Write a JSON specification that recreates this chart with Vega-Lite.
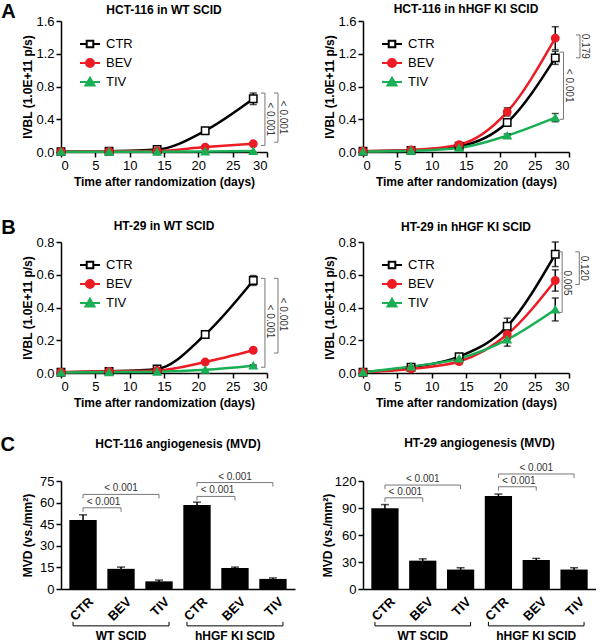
{
 "$schema": "https://vega.github.io/schema/vega-lite/v6.json",
 "background": "white",
 "padding": {"left": 0, "top": 2, "right": 0, "bottom": 0},
 "config": {
  "font": "Liberation Sans",
  "view": {"stroke": null},
  "axis": {"domainColor": "black", "tickColor": "black", "labelColor": "black", "titleColor": "black", "labelFontSize": 13, "titleFontSize": 12, "titleFontWeight": "bold", "grid": false, "domainWidth": 1.5, "tickWidth": 1.5, "tickSize": 5, "labelPadding": 2},
  "title": {"fontSize": 12, "fontWeight": "bold", "color": "black"},
  "legend": {"orient": "top-left", "offset": 12, "padding": 0, "labelFontSize": 13, "labelColor": "black", "symbolSize": 400, "symbolStrokeWidth": 2, "labelOffset": 5, "rowPadding": 0, "symbolOffset": 6}
 },
 "datasets": {
  "lines": [
   {"panel":"A1","series":"CTR","day":0,"value":0.005,"sem":0},
   {"panel":"A1","series":"CTR","day":7,"value":0.01,"sem":0},
   {"panel":"A1","series":"CTR","day":14,"value":0.03,"sem":0.005},
   {"panel":"A1","series":"CTR","day":21,"value":0.26,"sem":0.02},
   {"panel":"A1","series":"CTR","day":28,"value":0.65,"sem":0.07},
   {"panel":"A1","series":"BEV","day":0,"value":0.005,"sem":0},
   {"panel":"A1","series":"BEV","day":7,"value":0.008,"sem":0},
   {"panel":"A1","series":"BEV","day":14,"value":0.012,"sem":0},
   {"panel":"A1","series":"BEV","day":21,"value":0.06,"sem":0.01},
   {"panel":"A1","series":"BEV","day":28,"value":0.10,"sem":0.01},
   {"panel":"A1","series":"TIV","day":0,"value":0.003,"sem":0},
   {"panel":"A1","series":"TIV","day":7,"value":0.003,"sem":0},
   {"panel":"A1","series":"TIV","day":14,"value":0.004,"sem":0},
   {"panel":"A1","series":"TIV","day":21,"value":0.007,"sem":0},
   {"panel":"A1","series":"TIV","day":28,"value":0.012,"sem":0},
   {"panel":"A2","series":"CTR","day":0,"value":0.01,"sem":0},
   {"panel":"A2","series":"CTR","day":7,"value":0.02,"sem":0},
   {"panel":"A2","series":"CTR","day":14,"value":0.07,"sem":0.01},
   {"panel":"A2","series":"CTR","day":21,"value":0.36,"sem":0.04},
   {"panel":"A2","series":"CTR","day":28,"value":1.15,"sem":0.08},
   {"panel":"A2","series":"BEV","day":0,"value":0.01,"sem":0},
   {"panel":"A2","series":"BEV","day":7,"value":0.025,"sem":0},
   {"panel":"A2","series":"BEV","day":14,"value":0.09,"sem":0.01},
   {"panel":"A2","series":"BEV","day":21,"value":0.49,"sem":0.05},
   {"panel":"A2","series":"BEV","day":28,"value":1.39,"sem":0.14},
   {"panel":"A2","series":"TIV","day":0,"value":0.005,"sem":0},
   {"panel":"A2","series":"TIV","day":7,"value":0.015,"sem":0},
   {"panel":"A2","series":"TIV","day":14,"value":0.05,"sem":0},
   {"panel":"A2","series":"TIV","day":21,"value":0.2,"sem":0.02},
   {"panel":"A2","series":"TIV","day":28,"value":0.42,"sem":0.05},
   {"panel":"B1","series":"CTR","day":0,"value":0.005,"sem":0},
   {"panel":"B1","series":"CTR","day":7,"value":0.01,"sem":0},
   {"panel":"B1","series":"CTR","day":14,"value":0.025,"sem":0},
   {"panel":"B1","series":"CTR","day":21,"value":0.235,"sem":0.01},
   {"panel":"B1","series":"CTR","day":28,"value":0.565,"sem":0.03},
   {"panel":"B1","series":"BEV","day":0,"value":0.005,"sem":0},
   {"panel":"B1","series":"BEV","day":7,"value":0.01,"sem":0},
   {"panel":"B1","series":"BEV","day":14,"value":0.015,"sem":0},
   {"panel":"B1","series":"BEV","day":21,"value":0.067,"sem":0.004},
   {"panel":"B1","series":"BEV","day":28,"value":0.139,"sem":0.007},
   {"panel":"B1","series":"TIV","day":0,"value":0.003,"sem":0},
   {"panel":"B1","series":"TIV","day":7,"value":0.005,"sem":0},
   {"panel":"B1","series":"TIV","day":14,"value":0.008,"sem":0},
   {"panel":"B1","series":"TIV","day":21,"value":0.02,"sem":0},
   {"panel":"B1","series":"TIV","day":28,"value":0.045,"sem":0.004},
   {"panel":"B2","series":"CTR","day":0,"value":0.005,"sem":0},
   {"panel":"B2","series":"CTR","day":7,"value":0.035,"sem":0.008},
   {"panel":"B2","series":"CTR","day":14,"value":0.1,"sem":0.01},
   {"panel":"B2","series":"CTR","day":21,"value":0.285,"sem":0.05},
   {"panel":"B2","series":"CTR","day":28,"value":0.725,"sem":0.075},
   {"panel":"B2","series":"BEV","day":0,"value":0.005,"sem":0},
   {"panel":"B2","series":"BEV","day":7,"value":0.025,"sem":0.005},
   {"panel":"B2","series":"BEV","day":14,"value":0.07,"sem":0.015},
   {"panel":"B2","series":"BEV","day":21,"value":0.235,"sem":0.03},
   {"panel":"B2","series":"BEV","day":28,"value":0.565,"sem":0.065},
   {"panel":"B2","series":"TIV","day":0,"value":0.005,"sem":0},
   {"panel":"B2","series":"TIV","day":7,"value":0.04,"sem":0},
   {"panel":"B2","series":"TIV","day":14,"value":0.088,"sem":0.01},
   {"panel":"B2","series":"TIV","day":21,"value":0.204,"sem":0.04},
   {"panel":"B2","series":"TIV","day":28,"value":0.388,"sem":0.07}
  ],
  "vbr": [
   {"panel":"A1","label":"< 0.001","x":29.7,"top":0.72,"bottom":0.08,"mid":0.40},
   {"panel":"A1","label":"< 0.001","x":31.6,"top":0.72,"bottom":0.12,"mid":0.42},
   {"panel":"A2","label":"0.179","x":31.6,"top":1.43,"bottom":1.15,"mid":1.29},
   {"panel":"A2","label":"< 0.001","x":29.2,"top":1.22,"bottom":0.40,"mid":0.81},
   {"panel":"B1","label":"< 0.001","x":29.7,"top":0.578,"bottom":0.035,"mid":0.314},
   {"panel":"B1","label":"< 0.001","x":31.6,"top":0.578,"bottom":0.122,"mid":0.357},
   {"panel":"B2","label":"0.120","x":31.5,"top":0.74,"bottom":0.54,"mid":0.64},
   {"panel":"B2","label":"0.005","x":29.0,"top":0.74,"bottom":0.37,"mid":0.55}
  ],
  "bars": [
   {"panel":"C1","bar":"WT|CTR","value":48.0,"sem":3.5},
   {"panel":"C1","bar":"WT|BEV","value":14.0,"sem":1.2},
   {"panel":"C1","bar":"WT|TIV","value":5.3,"sem":0.9},
   {"panel":"C1","bar":"KI|CTR","value":58.3,"sem":2.0},
   {"panel":"C1","bar":"KI|BEV","value":14.6,"sem":0.6},
   {"panel":"C1","bar":"KI|TIV","value":7.0,"sem":0.7},
   {"panel":"C2","bar":"WT|CTR","value":89.8,"sem":4.0},
   {"panel":"C2","bar":"WT|BEV","value":31.5,"sem":2.0},
   {"panel":"C2","bar":"WT|TIV","value":21.6,"sem":2.0},
   {"panel":"C2","bar":"KI|CTR","value":103.3,"sem":2.2},
   {"panel":"C2","bar":"KI|BEV","value":32.2,"sem":1.8},
   {"panel":"C2","bar":"KI|TIV","value":21.6,"sem":2.0}
  ],
  "hbr": [
   {"panel":"C1","from":"WT|CTR","to":"WT|BEV","pair":"BEV","level":56.4,"label":"< 0.001"},
   {"panel":"C1","from":"WT|CTR","to":"WT|TIV","pair":"TIV","level":65.7,"label":"< 0.001"},
   {"panel":"C1","from":"KI|CTR","to":"KI|BEV","pair":"BEV","level":64.3,"label":"< 0.001"},
   {"panel":"C1","from":"KI|CTR","to":"KI|TIV","pair":"TIV","level":73.9,"label":"< 0.001"},
   {"panel":"C2","from":"WT|CTR","to":"WT|BEV","pair":"BEV","level":101.3,"label":"< 0.001"},
   {"panel":"C2","from":"WT|CTR","to":"WT|TIV","pair":"TIV","level":115.5,"label":"< 0.001"},
   {"panel":"C2","from":"KI|CTR","to":"KI|BEV","pair":"BEV","level":113.6,"label":"< 0.001"},
   {"panel":"C2","from":"KI|CTR","to":"KI|TIV","pair":"TIV","level":127.8,"label":"< 0.001"}
  ],
  "groups": [
   {"group":"WT SCID","first":"WT|CTR","middle":"WT|BEV","last":"WT|TIV"},
   {"group":"hHGF KI SCID","first":"KI|CTR","middle":"KI|BEV","last":"KI|TIV"}
  ]
 },
 "spacing": 27,
 "resolve": {"scale": {"color": "independent"}},
 "vconcat": [
  {
   "spacing": 30,
   "resolve": {"scale": {"color": "independent"}},
   "vconcat": [
    {
     "spacing": 35,
     "resolve": {"scale": {"color": "independent"}},
     "hconcat": [
      {
       "width": 206, "height": 131,
       "title": {"text": "HCT-116 in WT SCID", "offset": -14.5},
       "layer": [
        {"data": {"name": "lines"}, "transform": [{"filter": "datum.panel === 'A1'"}],
         "mark": {"type": "line", "interpolate": "monotone", "strokeWidth": 2.5},
         "encoding": {
          "x": {"field": "day", "type": "quantitative", "scale": {"domain": [0, 30], "nice": false}, "axis": {"values": [0,5,10,15,20,25,30], "title": "Time after randomization (days)"}},
          "y": {"field": "value", "type": "quantitative", "scale": {"domain": [0, 1.6], "nice": false}, "axis": {"values": [0,0.4,0.8,1.2,1.6], "format": ".1f", "title": "IVBL (1.0E+11 p/s)", "titlePadding": 1}},
          "color": {"field": "series", "type": "nominal", "scale": {"domain": ["CTR","BEV","TIV"], "range": ["black","#ec1c24","#1aaf54"]},
           "legend": {"title": null, "encode": {"symbols": {"update": {
            "shape": {"signal": "datum.value === 'CTR' ? 'M-1,0H-0.33M0.33,0H1M-0.33,-0.33H0.33V0.33H-0.33Z' : datum.value === 'BEV' ? 'M-1,0H1M-0.4,0A0.4,0.4,0,1,0,0.4,0A0.4,0.4,0,1,0,-0.4,0Z' : 'M-1,0H1M0,-0.42L0.45,0.34H-0.45Z'"},
            "fill": {"signal": "datum.value === 'CTR' ? 'white' : datum.value === 'BEV' ? '#ec1c24' : '#1aaf54'"},
            "fillOpacity": {"value": 1}, "strokeWidth": {"value": 2}}}}}}
         }},
        {"data": {"name": "lines"}, "transform": [{"filter": "datum.panel === 'A1' && datum.sem > 0"}],
         "mark": {"type": "errorbar", "ticks": {"size": 7, "color": "black"}, "rule": {"color": "black"}, "thickness": 1.5},
         "encoding": {"x": {"field": "day", "type": "quantitative", "axis": {"values": [0,5,10,15,20,25,30], "title": "Time after randomization (days)"}}, "y": {"field": "value", "type": "quantitative", "axis": {"values": [0,0.4,0.8,1.2,1.6], "format": ".1f", "title": "IVBL (1.0E+11 p/s)", "titlePadding": 1}}, "yError": {"field": "sem"}}},
        {"data": {"name": "lines"}, "transform": [{"filter": "datum.panel === 'A1'"}],
         "mark": {"type": "point", "filled": true, "opacity": 1, "size": 55, "strokeWidth": 1.5},
         "encoding": {
          "x": {"field": "day", "type": "quantitative", "axis": {"values": [0,5,10,15,20,25,30], "title": "Time after randomization (days)"}}, "y": {"field": "value", "type": "quantitative", "axis": {"values": [0,0.4,0.8,1.2,1.6], "format": ".1f", "title": "IVBL (1.0E+11 p/s)", "titlePadding": 1}},
          "shape": {"field": "series", "type": "nominal", "scale": {"domain": ["CTR","BEV","TIV"], "range": ["square","circle","triangle-up"]}, "legend": null},
          "fill": {"field": "series", "type": "nominal", "scale": {"domain": ["CTR","BEV","TIV"], "range": ["white","#ec1c24","#1aaf54"]}, "legend": null},
          "stroke": {"field": "series", "type": "nominal", "scale": {"domain": ["CTR","BEV","TIV"], "range": ["black","#ec1c24","#1aaf54"]}, "legend": null}}},
        {"data": {"name": "vbr"}, "transform": [{"filter": "datum.panel === 'A1'"}], "mark": {"type": "rule", "color": "#777777", "strokeWidth": 1},
         "encoding": {"x": {"field": "x", "type": "quantitative", "axis": {"values": [0,5,10,15,20,25,30], "title": "Time after randomization (days)"}}, "y": {"field": "top", "type": "quantitative", "axis": {"values": [0,0.4,0.8,1.2,1.6], "format": ".1f", "title": "IVBL (1.0E+11 p/s)", "titlePadding": 1}}, "y2": {"field": "bottom"}}},
        {"data": {"name": "vbr"}, "transform": [{"filter": "datum.panel === 'A1'"}], "mark": {"type": "rule", "color": "#777777", "strokeWidth": 1, "x2Offset": -4},
         "encoding": {"x": {"field": "x", "type": "quantitative", "axis": {"values": [0,5,10,15,20,25,30], "title": "Time after randomization (days)"}}, "x2": {"field": "x"}, "y": {"field": "top", "type": "quantitative", "axis": {"values": [0,0.4,0.8,1.2,1.6], "format": ".1f", "title": "IVBL (1.0E+11 p/s)", "titlePadding": 1}}}},
        {"data": {"name": "vbr"}, "transform": [{"filter": "datum.panel === 'A1'"}], "mark": {"type": "rule", "color": "#777777", "strokeWidth": 1, "x2Offset": -4},
         "encoding": {"x": {"field": "x", "type": "quantitative", "axis": {"values": [0,5,10,15,20,25,30], "title": "Time after randomization (days)"}}, "x2": {"field": "x"}, "y": {"field": "bottom", "type": "quantitative", "axis": {"values": [0,0.4,0.8,1.2,1.6], "format": ".1f", "title": "IVBL (1.0E+11 p/s)", "titlePadding": 1}}}},
        {"data": {"name": "vbr"}, "transform": [{"filter": "datum.panel === 'A1'"}], "mark": {"type": "text", "angle": 90, "baseline": "bottom", "align": "center", "fontSize": 10, "color": "#333333"},
         "encoding": {"x": {"field": "x", "type": "quantitative", "axis": {"values": [0,5,10,15,20,25,30], "title": "Time after randomization (days)"}}, "y": {"field": "mid", "type": "quantitative", "axis": {"values": [0,0.4,0.8,1.2,1.6], "format": ".1f", "title": "IVBL (1.0E+11 p/s)", "titlePadding": 1}}, "text": {"field": "label"}}},
        {"data": {"values": [{}]}, "mark": {"type": "text", "fontSize": 20, "fontWeight": "bold", "align": "left", "baseline": "middle", "color": "black"},
         "encoding": {"x": {"datum": -8.7, "type": "quantitative", "axis": {"values": [0,5,10,15,20,25,30], "title": "Time after randomization (days)"}}, "y": {"datum": 1.709, "type": "quantitative", "axis": {"values": [0,0.4,0.8,1.2,1.6], "format": ".1f", "title": "IVBL (1.0E+11 p/s)", "titlePadding": 1}}, "text": {"value": "A"}}}
       ]
      },
      {
       "width": 206, "height": 131,
       "title": {"text": "HCT-116 in hHGF KI SCID", "offset": -1},
       "layer": [
        {"data": {"name": "lines"}, "transform": [{"filter": "datum.panel === 'A2'"}],
         "mark": {"type": "line", "interpolate": "monotone", "strokeWidth": 2.5},
         "encoding": {
          "x": {"field": "day", "type": "quantitative", "scale": {"domain": [0, 30], "nice": false}, "axis": {"values": [0,5,10,15,20,25,30], "title": "Time after randomization (days)"}},
          "y": {"field": "value", "type": "quantitative", "scale": {"domain": [0, 1.6], "nice": false}, "axis": {"values": [0,0.4,0.8,1.2,1.6], "format": ".1f", "title": "IVBL (1.0E+11 p/s)", "titlePadding": 1}},
          "color": {"field": "series", "type": "nominal", "scale": {"domain": ["CTR","BEV","TIV"], "range": ["black","#ec1c24","#1aaf54"]},
           "legend": {"title": null, "encode": {"symbols": {"update": {
            "shape": {"signal": "datum.value === 'CTR' ? 'M-1,0H-0.33M0.33,0H1M-0.33,-0.33H0.33V0.33H-0.33Z' : datum.value === 'BEV' ? 'M-1,0H1M-0.4,0A0.4,0.4,0,1,0,0.4,0A0.4,0.4,0,1,0,-0.4,0Z' : 'M-1,0H1M0,-0.42L0.45,0.34H-0.45Z'"},
            "fill": {"signal": "datum.value === 'CTR' ? 'white' : datum.value === 'BEV' ? '#ec1c24' : '#1aaf54'"},
            "fillOpacity": {"value": 1}, "strokeWidth": {"value": 2}}}}}}
         }},
        {"data": {"name": "lines"}, "transform": [{"filter": "datum.panel === 'A2' && datum.sem > 0"}],
         "mark": {"type": "errorbar", "ticks": {"size": 7, "color": "black"}, "rule": {"color": "black"}, "thickness": 1.5},
         "encoding": {"x": {"field": "day", "type": "quantitative", "axis": {"values": [0,5,10,15,20,25,30], "title": "Time after randomization (days)"}}, "y": {"field": "value", "type": "quantitative", "axis": {"values": [0,0.4,0.8,1.2,1.6], "format": ".1f", "title": "IVBL (1.0E+11 p/s)", "titlePadding": 1}}, "yError": {"field": "sem"}}},
        {"data": {"name": "lines"}, "transform": [{"filter": "datum.panel === 'A2'"}],
         "mark": {"type": "point", "filled": true, "opacity": 1, "size": 55, "strokeWidth": 1.5},
         "encoding": {
          "x": {"field": "day", "type": "quantitative", "axis": {"values": [0,5,10,15,20,25,30], "title": "Time after randomization (days)"}}, "y": {"field": "value", "type": "quantitative", "axis": {"values": [0,0.4,0.8,1.2,1.6], "format": ".1f", "title": "IVBL (1.0E+11 p/s)", "titlePadding": 1}},
          "shape": {"field": "series", "type": "nominal", "scale": {"domain": ["CTR","BEV","TIV"], "range": ["square","circle","triangle-up"]}, "legend": null},
          "fill": {"field": "series", "type": "nominal", "scale": {"domain": ["CTR","BEV","TIV"], "range": ["white","#ec1c24","#1aaf54"]}, "legend": null},
          "stroke": {"field": "series", "type": "nominal", "scale": {"domain": ["CTR","BEV","TIV"], "range": ["black","#ec1c24","#1aaf54"]}, "legend": null}}},
        {"data": {"name": "vbr"}, "transform": [{"filter": "datum.panel === 'A2'"}], "mark": {"type": "rule", "color": "#777777", "strokeWidth": 1},
         "encoding": {"x": {"field": "x", "type": "quantitative", "axis": {"values": [0,5,10,15,20,25,30], "title": "Time after randomization (days)"}}, "y": {"field": "top", "type": "quantitative", "axis": {"values": [0,0.4,0.8,1.2,1.6], "format": ".1f", "title": "IVBL (1.0E+11 p/s)", "titlePadding": 1}}, "y2": {"field": "bottom"}}},
        {"data": {"name": "vbr"}, "transform": [{"filter": "datum.panel === 'A2'"}], "mark": {"type": "rule", "color": "#777777", "strokeWidth": 1, "x2Offset": -4},
         "encoding": {"x": {"field": "x", "type": "quantitative", "axis": {"values": [0,5,10,15,20,25,30], "title": "Time after randomization (days)"}}, "x2": {"field": "x"}, "y": {"field": "top", "type": "quantitative", "axis": {"values": [0,0.4,0.8,1.2,1.6], "format": ".1f", "title": "IVBL (1.0E+11 p/s)", "titlePadding": 1}}}},
        {"data": {"name": "vbr"}, "transform": [{"filter": "datum.panel === 'A2'"}], "mark": {"type": "rule", "color": "#777777", "strokeWidth": 1, "x2Offset": -4},
         "encoding": {"x": {"field": "x", "type": "quantitative", "axis": {"values": [0,5,10,15,20,25,30], "title": "Time after randomization (days)"}}, "x2": {"field": "x"}, "y": {"field": "bottom", "type": "quantitative", "axis": {"values": [0,0.4,0.8,1.2,1.6], "format": ".1f", "title": "IVBL (1.0E+11 p/s)", "titlePadding": 1}}}},
        {"data": {"name": "vbr"}, "transform": [{"filter": "datum.panel === 'A2'"}], "mark": {"type": "text", "angle": 90, "baseline": "bottom", "align": "center", "fontSize": 10, "color": "#333333"},
         "encoding": {"x": {"field": "x", "type": "quantitative", "axis": {"values": [0,5,10,15,20,25,30], "title": "Time after randomization (days)"}}, "y": {"field": "mid", "type": "quantitative", "axis": {"values": [0,0.4,0.8,1.2,1.6], "format": ".1f", "title": "IVBL (1.0E+11 p/s)", "titlePadding": 1}}, "text": {"field": "label"}}}
       ]
      }
     ]
    },
    {
     "spacing": 35,
     "resolve": {"scale": {"color": "independent"}},
     "hconcat": [
      {
       "width": 206, "height": 131,
       "title": {"text": "HT-29 in WT SCID", "offset": -15},
       "layer": [
        {"data": {"name": "lines"}, "transform": [{"filter": "datum.panel === 'B1'"}],
         "mark": {"type": "line", "interpolate": "monotone", "strokeWidth": 2.5},
         "encoding": {
          "x": {"field": "day", "type": "quantitative", "scale": {"domain": [0, 30], "nice": false}, "axis": {"values": [0,5,10,15,20,25,30], "title": "Time after randomization (days)"}},
          "y": {"field": "value", "type": "quantitative", "scale": {"domain": [0, 0.8], "nice": false}, "axis": {"values": [0,0.2,0.4,0.6,0.8], "format": ".1f", "title": "IVBL (1.0E+11 p/s)", "titlePadding": 1}},
          "color": {"field": "series", "type": "nominal", "scale": {"domain": ["CTR","BEV","TIV"], "range": ["black","#ec1c24","#1aaf54"]},
           "legend": {"title": null, "encode": {"symbols": {"update": {
            "shape": {"signal": "datum.value === 'CTR' ? 'M-1,0H-0.33M0.33,0H1M-0.33,-0.33H0.33V0.33H-0.33Z' : datum.value === 'BEV' ? 'M-1,0H1M-0.4,0A0.4,0.4,0,1,0,0.4,0A0.4,0.4,0,1,0,-0.4,0Z' : 'M-1,0H1M0,-0.42L0.45,0.34H-0.45Z'"},
            "fill": {"signal": "datum.value === 'CTR' ? 'white' : datum.value === 'BEV' ? '#ec1c24' : '#1aaf54'"},
            "fillOpacity": {"value": 1}, "strokeWidth": {"value": 2}}}}}}
         }},
        {"data": {"name": "lines"}, "transform": [{"filter": "datum.panel === 'B1' && datum.sem > 0"}],
         "mark": {"type": "errorbar", "ticks": {"size": 7, "color": "black"}, "rule": {"color": "black"}, "thickness": 1.5},
         "encoding": {"x": {"field": "day", "type": "quantitative", "axis": {"values": [0,5,10,15,20,25,30], "title": "Time after randomization (days)"}}, "y": {"field": "value", "type": "quantitative", "axis": {"values": [0,0.2,0.4,0.6,0.8], "format": ".1f", "title": "IVBL (1.0E+11 p/s)", "titlePadding": 1}}, "yError": {"field": "sem"}}},
        {"data": {"name": "lines"}, "transform": [{"filter": "datum.panel === 'B1'"}],
         "mark": {"type": "point", "filled": true, "opacity": 1, "size": 55, "strokeWidth": 1.5},
         "encoding": {
          "x": {"field": "day", "type": "quantitative", "axis": {"values": [0,5,10,15,20,25,30], "title": "Time after randomization (days)"}}, "y": {"field": "value", "type": "quantitative", "axis": {"values": [0,0.2,0.4,0.6,0.8], "format": ".1f", "title": "IVBL (1.0E+11 p/s)", "titlePadding": 1}},
          "shape": {"field": "series", "type": "nominal", "scale": {"domain": ["CTR","BEV","TIV"], "range": ["square","circle","triangle-up"]}, "legend": null},
          "fill": {"field": "series", "type": "nominal", "scale": {"domain": ["CTR","BEV","TIV"], "range": ["white","#ec1c24","#1aaf54"]}, "legend": null},
          "stroke": {"field": "series", "type": "nominal", "scale": {"domain": ["CTR","BEV","TIV"], "range": ["black","#ec1c24","#1aaf54"]}, "legend": null}}},
        {"data": {"name": "vbr"}, "transform": [{"filter": "datum.panel === 'B1'"}], "mark": {"type": "rule", "color": "#777777", "strokeWidth": 1},
         "encoding": {"x": {"field": "x", "type": "quantitative", "axis": {"values": [0,5,10,15,20,25,30], "title": "Time after randomization (days)"}}, "y": {"field": "top", "type": "quantitative", "axis": {"values": [0,0.2,0.4,0.6,0.8], "format": ".1f", "title": "IVBL (1.0E+11 p/s)", "titlePadding": 1}}, "y2": {"field": "bottom"}}},
        {"data": {"name": "vbr"}, "transform": [{"filter": "datum.panel === 'B1'"}], "mark": {"type": "rule", "color": "#777777", "strokeWidth": 1, "x2Offset": -4},
         "encoding": {"x": {"field": "x", "type": "quantitative", "axis": {"values": [0,5,10,15,20,25,30], "title": "Time after randomization (days)"}}, "x2": {"field": "x"}, "y": {"field": "top", "type": "quantitative", "axis": {"values": [0,0.2,0.4,0.6,0.8], "format": ".1f", "title": "IVBL (1.0E+11 p/s)", "titlePadding": 1}}}},
        {"data": {"name": "vbr"}, "transform": [{"filter": "datum.panel === 'B1'"}], "mark": {"type": "rule", "color": "#777777", "strokeWidth": 1, "x2Offset": -4},
         "encoding": {"x": {"field": "x", "type": "quantitative", "axis": {"values": [0,5,10,15,20,25,30], "title": "Time after randomization (days)"}}, "x2": {"field": "x"}, "y": {"field": "bottom", "type": "quantitative", "axis": {"values": [0,0.2,0.4,0.6,0.8], "format": ".1f", "title": "IVBL (1.0E+11 p/s)", "titlePadding": 1}}}},
        {"data": {"name": "vbr"}, "transform": [{"filter": "datum.panel === 'B1'"}], "mark": {"type": "text", "angle": 90, "baseline": "bottom", "align": "center", "fontSize": 10, "color": "#333333"},
         "encoding": {"x": {"field": "x", "type": "quantitative", "axis": {"values": [0,5,10,15,20,25,30], "title": "Time after randomization (days)"}}, "y": {"field": "mid", "type": "quantitative", "axis": {"values": [0,0.2,0.4,0.6,0.8], "format": ".1f", "title": "IVBL (1.0E+11 p/s)", "titlePadding": 1}}, "text": {"field": "label"}}},
        {"data": {"values": [{}]}, "mark": {"type": "text", "fontSize": 20, "fontWeight": "bold", "align": "left", "baseline": "middle", "color": "black"},
         "encoding": {"x": {"datum": -8.7, "type": "quantitative", "axis": {"values": [0,5,10,15,20,25,30], "title": "Time after randomization (days)"}}, "y": {"datum": 0.887, "type": "quantitative", "axis": {"values": [0,0.2,0.4,0.6,0.8], "format": ".1f", "title": "IVBL (1.0E+11 p/s)", "titlePadding": 1}}, "text": {"value": "B"}}}
       ]
      },
      {
       "width": 206, "height": 131,
       "title": {"text": "HT-29 in hHGF KI SCID", "offset": 2},
       "layer": [
        {"data": {"name": "lines"}, "transform": [{"filter": "datum.panel === 'B2'"}],
         "mark": {"type": "line", "interpolate": "monotone", "strokeWidth": 2.5},
         "encoding": {
          "x": {"field": "day", "type": "quantitative", "scale": {"domain": [0, 30], "nice": false}, "axis": {"values": [0,5,10,15,20,25,30], "title": "Time after randomization (days)"}},
          "y": {"field": "value", "type": "quantitative", "scale": {"domain": [0, 0.8], "nice": false}, "axis": {"values": [0,0.2,0.4,0.6,0.8], "format": ".1f", "title": "IVBL (1.0E+11 p/s)", "titlePadding": 1}},
          "color": {"field": "series", "type": "nominal", "scale": {"domain": ["CTR","BEV","TIV"], "range": ["black","#ec1c24","#1aaf54"]},
           "legend": {"title": null, "encode": {"symbols": {"update": {
            "shape": {"signal": "datum.value === 'CTR' ? 'M-1,0H-0.33M0.33,0H1M-0.33,-0.33H0.33V0.33H-0.33Z' : datum.value === 'BEV' ? 'M-1,0H1M-0.4,0A0.4,0.4,0,1,0,0.4,0A0.4,0.4,0,1,0,-0.4,0Z' : 'M-1,0H1M0,-0.42L0.45,0.34H-0.45Z'"},
            "fill": {"signal": "datum.value === 'CTR' ? 'white' : datum.value === 'BEV' ? '#ec1c24' : '#1aaf54'"},
            "fillOpacity": {"value": 1}, "strokeWidth": {"value": 2}}}}}}
         }},
        {"data": {"name": "lines"}, "transform": [{"filter": "datum.panel === 'B2' && datum.sem > 0"}],
         "mark": {"type": "errorbar", "ticks": {"size": 7, "color": "black"}, "rule": {"color": "black"}, "thickness": 1.5},
         "encoding": {"x": {"field": "day", "type": "quantitative", "axis": {"values": [0,5,10,15,20,25,30], "title": "Time after randomization (days)"}}, "y": {"field": "value", "type": "quantitative", "axis": {"values": [0,0.2,0.4,0.6,0.8], "format": ".1f", "title": "IVBL (1.0E+11 p/s)", "titlePadding": 1}}, "yError": {"field": "sem"}}},
        {"data": {"name": "lines"}, "transform": [{"filter": "datum.panel === 'B2'"}],
         "mark": {"type": "point", "filled": true, "opacity": 1, "size": 55, "strokeWidth": 1.5},
         "encoding": {
          "x": {"field": "day", "type": "quantitative", "axis": {"values": [0,5,10,15,20,25,30], "title": "Time after randomization (days)"}}, "y": {"field": "value", "type": "quantitative", "axis": {"values": [0,0.2,0.4,0.6,0.8], "format": ".1f", "title": "IVBL (1.0E+11 p/s)", "titlePadding": 1}},
          "shape": {"field": "series", "type": "nominal", "scale": {"domain": ["CTR","BEV","TIV"], "range": ["square","circle","triangle-up"]}, "legend": null},
          "fill": {"field": "series", "type": "nominal", "scale": {"domain": ["CTR","BEV","TIV"], "range": ["white","#ec1c24","#1aaf54"]}, "legend": null},
          "stroke": {"field": "series", "type": "nominal", "scale": {"domain": ["CTR","BEV","TIV"], "range": ["black","#ec1c24","#1aaf54"]}, "legend": null}}},
        {"data": {"name": "vbr"}, "transform": [{"filter": "datum.panel === 'B2'"}], "mark": {"type": "rule", "color": "#777777", "strokeWidth": 1},
         "encoding": {"x": {"field": "x", "type": "quantitative", "axis": {"values": [0,5,10,15,20,25,30], "title": "Time after randomization (days)"}}, "y": {"field": "top", "type": "quantitative", "axis": {"values": [0,0.2,0.4,0.6,0.8], "format": ".1f", "title": "IVBL (1.0E+11 p/s)", "titlePadding": 1}}, "y2": {"field": "bottom"}}},
        {"data": {"name": "vbr"}, "transform": [{"filter": "datum.panel === 'B2'"}], "mark": {"type": "rule", "color": "#777777", "strokeWidth": 1, "x2Offset": -4},
         "encoding": {"x": {"field": "x", "type": "quantitative", "axis": {"values": [0,5,10,15,20,25,30], "title": "Time after randomization (days)"}}, "x2": {"field": "x"}, "y": {"field": "top", "type": "quantitative", "axis": {"values": [0,0.2,0.4,0.6,0.8], "format": ".1f", "title": "IVBL (1.0E+11 p/s)", "titlePadding": 1}}}},
        {"data": {"name": "vbr"}, "transform": [{"filter": "datum.panel === 'B2'"}], "mark": {"type": "rule", "color": "#777777", "strokeWidth": 1, "x2Offset": -4},
         "encoding": {"x": {"field": "x", "type": "quantitative", "axis": {"values": [0,5,10,15,20,25,30], "title": "Time after randomization (days)"}}, "x2": {"field": "x"}, "y": {"field": "bottom", "type": "quantitative", "axis": {"values": [0,0.2,0.4,0.6,0.8], "format": ".1f", "title": "IVBL (1.0E+11 p/s)", "titlePadding": 1}}}},
        {"data": {"name": "vbr"}, "transform": [{"filter": "datum.panel === 'B2'"}], "mark": {"type": "text", "angle": 90, "baseline": "bottom", "align": "center", "fontSize": 10, "color": "#333333"},
         "encoding": {"x": {"field": "x", "type": "quantitative", "axis": {"values": [0,5,10,15,20,25,30], "title": "Time after randomization (days)"}}, "y": {"field": "mid", "type": "quantitative", "axis": {"values": [0,0.2,0.4,0.6,0.8], "format": ".1f", "title": "IVBL (1.0E+11 p/s)", "titlePadding": 1}}, "text": {"field": "label"}}}
       ]
      }
     ]
    }
   ]
  },
  {
   "spacing": 26,
   "hconcat": [
    {
     "width": 234, "height": 108,
     "title": {"text": "HCT-116 angiogenesis (MVD)", "offset": -16},
     "layer": [
      {"data": {"name": "bars"}, "transform": [{"filter": "datum.panel === 'C1'"}],
       "mark": {"type": "bar", "color": "black"},
       "encoding": {
        "x": {"field": "bar", "type": "nominal", "scale": {"domain": ["WT|CTR","WT|BEV","WT|TIV","KI|CTR","KI|BEV","KI|TIV"], "paddingInner": 0.28, "paddingOuter": 0.22},
         "axis": {"title": null, "labelAngle": -45, "labelExpr": "split(datum.label, '|')[1]", "ticks": false, "labelFontWeight": "bold", "labelFontSize": 13, "labelPadding": 6, "labelOffset": 4}},
        "y": {"field": "value", "type": "quantitative", "scale": {"domain": [0, 75], "nice": false}, "axis": {"values": [0,15,30,45,60,75], "title": "MVD (vs./mm²)", "titlePadding": 5}}}},
      {"data": {"name": "bars"}, "transform": [{"filter": "datum.panel === 'C1'"}],
       "mark": {"type": "errorbar", "ticks": {"size": 8, "color": "black"}, "rule": {"color": "black"}, "thickness": 1.5},
       "encoding": {"x": {"field": "bar", "type": "nominal", "axis": {"title": null, "labelAngle": -45, "labelExpr": "split(datum.label, '|')[1]", "ticks": false, "labelFontWeight": "bold", "labelFontSize": 13, "labelPadding": 6, "labelOffset": 4}}, "y": {"field": "value", "type": "quantitative", "axis": {"values": [0,15,30,45,60,75], "title": "MVD (vs./mm²)", "titlePadding": 5}}, "yError": {"field": "sem"}}},
      {"data": {"name": "hbr"}, "transform": [{"filter": "datum.panel === 'C1'"}], "mark": {"type": "rule", "color": "#777777", "strokeWidth": 1},
       "encoding": {"x": {"field": "from", "type": "nominal", "axis": {"title": null, "labelAngle": -45, "labelExpr": "split(datum.label, '|')[1]", "ticks": false, "labelFontWeight": "bold", "labelFontSize": 13, "labelPadding": 6, "labelOffset": 4}}, "x2": {"field": "to"}, "y": {"field": "level", "type": "quantitative", "axis": {"values": [0,15,30,45,60,75], "title": "MVD (vs./mm²)", "titlePadding": 5}}}},
      {"data": {"name": "hbr"}, "transform": [{"filter": "datum.panel === 'C1'"}], "mark": {"type": "rule", "color": "#777777", "strokeWidth": 1, "y2Offset": 4},
       "encoding": {"x": {"field": "from", "type": "nominal", "axis": {"title": null, "labelAngle": -45, "labelExpr": "split(datum.label, '|')[1]", "ticks": false, "labelFontWeight": "bold", "labelFontSize": 13, "labelPadding": 6, "labelOffset": 4}}, "y": {"field": "level", "type": "quantitative", "axis": {"values": [0,15,30,45,60,75], "title": "MVD (vs./mm²)", "titlePadding": 5}}, "y2": {"field": "level"}}},
      {"data": {"name": "hbr"}, "transform": [{"filter": "datum.panel === 'C1'"}], "mark": {"type": "rule", "color": "#777777", "strokeWidth": 1, "y2Offset": 4},
       "encoding": {"x": {"field": "to", "type": "nominal", "axis": {"title": null, "labelAngle": -45, "labelExpr": "split(datum.label, '|')[1]", "ticks": false, "labelFontWeight": "bold", "labelFontSize": 13, "labelPadding": 6, "labelOffset": 4}}, "y": {"field": "level", "type": "quantitative", "axis": {"values": [0,15,30,45,60,75], "title": "MVD (vs./mm²)", "titlePadding": 5}}, "y2": {"field": "level"}}},
      {"data": {"name": "hbr"}, "transform": [{"filter": "datum.panel === 'C1' && datum.pair === 'BEV'"}], "mark": {"type": "text", "fontSize": 10, "dy": -3, "baseline": "alphabetic", "color": "#333333"},
       "encoding": {"x": {"field": "from", "type": "nominal", "bandPosition": 1.25, "axis": {"title": null, "labelAngle": -45, "labelExpr": "split(datum.label, '|')[1]", "ticks": false, "labelFontWeight": "bold", "labelFontSize": 13, "labelPadding": 6, "labelOffset": 4}}, "y": {"field": "level", "type": "quantitative", "axis": {"values": [0,15,30,45,60,75], "title": "MVD (vs./mm²)", "titlePadding": 5}}, "text": {"field": "label"}}},
      {"data": {"name": "hbr"}, "transform": [{"filter": "datum.panel === 'C1' && datum.pair === 'TIV'"}], "mark": {"type": "text", "fontSize": 10, "dy": -3, "baseline": "alphabetic", "color": "#333333"},
       "encoding": {"x": {"field": "from", "type": "nominal", "bandPosition": 1.89, "axis": {"title": null, "labelAngle": -45, "labelExpr": "split(datum.label, '|')[1]", "ticks": false, "labelFontWeight": "bold", "labelFontSize": 13, "labelPadding": 6, "labelOffset": 4}}, "y": {"field": "level", "type": "quantitative", "axis": {"values": [0,15,30,45,60,75], "title": "MVD (vs./mm²)", "titlePadding": 5}}, "text": {"field": "label"}}},
      {"data": {"name": "groups"}, "mark": {"type": "rule", "color": "black", "strokeWidth": 1, "xOffset": -10, "x2Offset": 10},
       "encoding": {"x": {"field": "first", "type": "nominal", "axis": {"title": null, "labelAngle": -45, "labelExpr": "split(datum.label, '|')[1]", "ticks": false, "labelFontWeight": "bold", "labelFontSize": 13, "labelPadding": 6, "labelOffset": 4}}, "x2": {"field": "last"}, "y": {"datum": -25.6, "type": "quantitative", "axis": {"values": [0,15,30,45,60,75], "title": "MVD (vs./mm²)", "titlePadding": 5}}}},
      {"data": {"name": "groups"}, "mark": {"type": "rule", "color": "black", "strokeWidth": 1, "xOffset": -10, "y2Offset": -4},
       "encoding": {"x": {"field": "first", "type": "nominal", "axis": {"title": null, "labelAngle": -45, "labelExpr": "split(datum.label, '|')[1]", "ticks": false, "labelFontWeight": "bold", "labelFontSize": 13, "labelPadding": 6, "labelOffset": 4}}, "y": {"datum": -25.6, "type": "quantitative", "axis": {"values": [0,15,30,45,60,75], "title": "MVD (vs./mm²)", "titlePadding": 5}}, "y2": {"datum": -25.6}}},
      {"data": {"name": "groups"}, "mark": {"type": "rule", "color": "black", "strokeWidth": 1, "xOffset": 10, "y2Offset": -4},
       "encoding": {"x": {"field": "last", "type": "nominal", "axis": {"title": null, "labelAngle": -45, "labelExpr": "split(datum.label, '|')[1]", "ticks": false, "labelFontWeight": "bold", "labelFontSize": 13, "labelPadding": 6, "labelOffset": 4}}, "y": {"datum": -25.6, "type": "quantitative", "axis": {"values": [0,15,30,45,60,75], "title": "MVD (vs./mm²)", "titlePadding": 5}}, "y2": {"datum": -25.6}}},
      {"data": {"name": "groups"}, "mark": {"type": "text", "fontSize": 12, "fontWeight": "bold", "baseline": "top", "dy": 5, "color": "black"},
       "encoding": {"x": {"field": "middle", "type": "nominal", "axis": {"title": null, "labelAngle": -45, "labelExpr": "split(datum.label, '|')[1]", "ticks": false, "labelFontWeight": "bold", "labelFontSize": 13, "labelPadding": 6, "labelOffset": 4}}, "y": {"datum": -25.6, "type": "quantitative", "axis": {"values": [0,15,30,45,60,75], "title": "MVD (vs./mm²)", "titlePadding": 5}}, "text": {"field": "group"}}},
      {"data": {"values": [{}]}, "mark": {"type": "text", "fontSize": 20, "fontWeight": "bold", "align": "left", "baseline": "middle", "color": "black"},
       "encoding": {"x": {"datum": "WT|CTR", "type": "nominal", "bandPosition": -2.52, "axis": {"title": null, "labelAngle": -45, "labelExpr": "split(datum.label, '|')[1]", "ticks": false, "labelFontWeight": "bold", "labelFontSize": 13, "labelPadding": 6, "labelOffset": 4}}, "y": {"datum": 99.9, "type": "quantitative", "axis": {"values": [0,15,30,45,60,75], "title": "MVD (vs./mm²)", "titlePadding": 5}}, "text": {"value": "C"}}}
     ]
    },
    {
     "width": 233, "height": 108,
     "title": {"text": "HT-29 angiogenesis (MVD)", "offset": 13},
     "layer": [
      {"data": {"name": "bars"}, "transform": [{"filter": "datum.panel === 'C2'"}],
       "mark": {"type": "bar", "color": "black"},
       "encoding": {
        "x": {"field": "bar", "type": "nominal", "scale": {"domain": ["WT|CTR","WT|BEV","WT|TIV","KI|CTR","KI|BEV","KI|TIV"], "paddingInner": 0.28, "paddingOuter": 0.22},
         "axis": {"title": null, "labelAngle": -45, "labelExpr": "split(datum.label, '|')[1]", "ticks": false, "labelFontWeight": "bold", "labelFontSize": 13, "labelPadding": 6, "labelOffset": 4}},
        "y": {"field": "value", "type": "quantitative", "scale": {"domain": [0, 120], "nice": false}, "axis": {"values": [0,30,60,90,120], "title": "MVD (vs./mm²)", "titlePadding": 0}}}},
      {"data": {"name": "bars"}, "transform": [{"filter": "datum.panel === 'C2'"}],
       "mark": {"type": "errorbar", "ticks": {"size": 8, "color": "black"}, "rule": {"color": "black"}, "thickness": 1.5},
       "encoding": {"x": {"field": "bar", "type": "nominal", "axis": {"title": null, "labelAngle": -45, "labelExpr": "split(datum.label, '|')[1]", "ticks": false, "labelFontWeight": "bold", "labelFontSize": 13, "labelPadding": 6, "labelOffset": 4}}, "y": {"field": "value", "type": "quantitative", "axis": {"values": [0,30,60,90,120], "title": "MVD (vs./mm²)", "titlePadding": 0}}, "yError": {"field": "sem"}}},
      {"data": {"name": "hbr"}, "transform": [{"filter": "datum.panel === 'C2'"}], "mark": {"type": "rule", "color": "#777777", "strokeWidth": 1},
       "encoding": {"x": {"field": "from", "type": "nominal", "axis": {"title": null, "labelAngle": -45, "labelExpr": "split(datum.label, '|')[1]", "ticks": false, "labelFontWeight": "bold", "labelFontSize": 13, "labelPadding": 6, "labelOffset": 4}}, "x2": {"field": "to"}, "y": {"field": "level", "type": "quantitative", "axis": {"values": [0,30,60,90,120], "title": "MVD (vs./mm²)", "titlePadding": 0}}}},
      {"data": {"name": "hbr"}, "transform": [{"filter": "datum.panel === 'C2'"}], "mark": {"type": "rule", "color": "#777777", "strokeWidth": 1, "y2Offset": 4},
       "encoding": {"x": {"field": "from", "type": "nominal", "axis": {"title": null, "labelAngle": -45, "labelExpr": "split(datum.label, '|')[1]", "ticks": false, "labelFontWeight": "bold", "labelFontSize": 13, "labelPadding": 6, "labelOffset": 4}}, "y": {"field": "level", "type": "quantitative", "axis": {"values": [0,30,60,90,120], "title": "MVD (vs./mm²)", "titlePadding": 0}}, "y2": {"field": "level"}}},
      {"data": {"name": "hbr"}, "transform": [{"filter": "datum.panel === 'C2'"}], "mark": {"type": "rule", "color": "#777777", "strokeWidth": 1, "y2Offset": 4},
       "encoding": {"x": {"field": "to", "type": "nominal", "axis": {"title": null, "labelAngle": -45, "labelExpr": "split(datum.label, '|')[1]", "ticks": false, "labelFontWeight": "bold", "labelFontSize": 13, "labelPadding": 6, "labelOffset": 4}}, "y": {"field": "level", "type": "quantitative", "axis": {"values": [0,30,60,90,120], "title": "MVD (vs./mm²)", "titlePadding": 0}}, "y2": {"field": "level"}}},
      {"data": {"name": "hbr"}, "transform": [{"filter": "datum.panel === 'C2' && datum.pair === 'BEV'"}], "mark": {"type": "text", "fontSize": 10, "dy": -3, "baseline": "alphabetic", "color": "#333333"},
       "encoding": {"x": {"field": "from", "type": "nominal", "bandPosition": 1.25, "axis": {"title": null, "labelAngle": -45, "labelExpr": "split(datum.label, '|')[1]", "ticks": false, "labelFontWeight": "bold", "labelFontSize": 13, "labelPadding": 6, "labelOffset": 4}}, "y": {"field": "level", "type": "quantitative", "axis": {"values": [0,30,60,90,120], "title": "MVD (vs./mm²)", "titlePadding": 0}}, "text": {"field": "label"}}},
      {"data": {"name": "hbr"}, "transform": [{"filter": "datum.panel === 'C2' && datum.pair === 'TIV'"}], "mark": {"type": "text", "fontSize": 10, "dy": -3, "baseline": "alphabetic", "color": "#333333"},
       "encoding": {"x": {"field": "from", "type": "nominal", "bandPosition": 1.89, "axis": {"title": null, "labelAngle": -45, "labelExpr": "split(datum.label, '|')[1]", "ticks": false, "labelFontWeight": "bold", "labelFontSize": 13, "labelPadding": 6, "labelOffset": 4}}, "y": {"field": "level", "type": "quantitative", "axis": {"values": [0,30,60,90,120], "title": "MVD (vs./mm²)", "titlePadding": 0}}, "text": {"field": "label"}}},
      {"data": {"name": "groups"}, "mark": {"type": "rule", "color": "black", "strokeWidth": 1, "xOffset": -10, "x2Offset": 10},
       "encoding": {"x": {"field": "first", "type": "nominal", "axis": {"title": null, "labelAngle": -45, "labelExpr": "split(datum.label, '|')[1]", "ticks": false, "labelFontWeight": "bold", "labelFontSize": 13, "labelPadding": 6, "labelOffset": 4}}, "x2": {"field": "last"}, "y": {"datum": -41, "type": "quantitative", "axis": {"values": [0,30,60,90,120], "title": "MVD (vs./mm²)", "titlePadding": 0}}}},
      {"data": {"name": "groups"}, "mark": {"type": "rule", "color": "black", "strokeWidth": 1, "xOffset": -10, "y2Offset": -4},
       "encoding": {"x": {"field": "first", "type": "nominal", "axis": {"title": null, "labelAngle": -45, "labelExpr": "split(datum.label, '|')[1]", "ticks": false, "labelFontWeight": "bold", "labelFontSize": 13, "labelPadding": 6, "labelOffset": 4}}, "y": {"datum": -41, "type": "quantitative", "axis": {"values": [0,30,60,90,120], "title": "MVD (vs./mm²)", "titlePadding": 0}}, "y2": {"datum": -41}}},
      {"data": {"name": "groups"}, "mark": {"type": "rule", "color": "black", "strokeWidth": 1, "xOffset": 10, "y2Offset": -4},
       "encoding": {"x": {"field": "last", "type": "nominal", "axis": {"title": null, "labelAngle": -45, "labelExpr": "split(datum.label, '|')[1]", "ticks": false, "labelFontWeight": "bold", "labelFontSize": 13, "labelPadding": 6, "labelOffset": 4}}, "y": {"datum": -41, "type": "quantitative", "axis": {"values": [0,30,60,90,120], "title": "MVD (vs./mm²)", "titlePadding": 0}}, "y2": {"datum": -41}}},
      {"data": {"name": "groups"}, "mark": {"type": "text", "fontSize": 12, "fontWeight": "bold", "baseline": "top", "dy": 5, "color": "black"},
       "encoding": {"x": {"field": "middle", "type": "nominal", "axis": {"title": null, "labelAngle": -45, "labelExpr": "split(datum.label, '|')[1]", "ticks": false, "labelFontWeight": "bold", "labelFontSize": 13, "labelPadding": 6, "labelOffset": 4}}, "y": {"datum": -41, "type": "quantitative", "axis": {"values": [0,30,60,90,120], "title": "MVD (vs./mm²)", "titlePadding": 0}}, "text": {"field": "group"}}}
     ]
    }
   ]
  }
 ]
}
